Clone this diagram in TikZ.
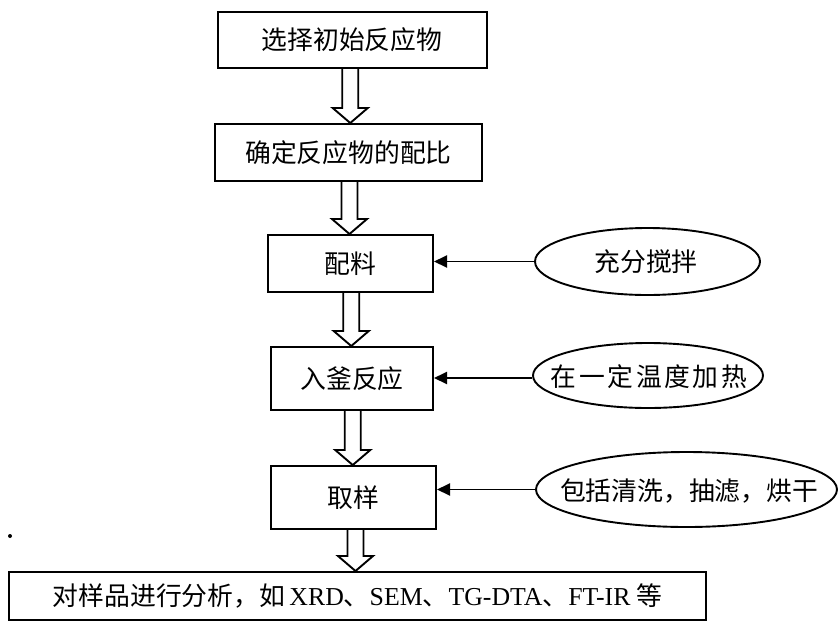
\documentclass[tikz,border=0pt]{standalone}
\usepackage{fontspec}
\setmainfont{Liberation Serif}
\newfontfamily\cjk{Noto Sans CJK SC}
\newfontfamily\cjkwide[LetterSpace=10]{Noto Sans CJK SC}
\usetikzlibrary{arrows.meta,shapes.geometric,calc}
\newcommand\hollowarrow[2]{%
  \draw[blockarr] let \p1=(#1.south), \p2=(#2.north), \p3=($(#1.south)!.5!(#2.north)$) in
    (\x3-8pt,\y1) -- (\x3-8pt,\y2+15pt) -- (\x3-17.5pt,\y2+15pt) -- (\x3,\y2)
    -- (\x3+17.5pt,\y2+15pt) -- (\x3+8pt,\y2+15pt) -- (\x3+8pt,\y1);}
\begin{document}
\begin{tikzpicture}[x=1pt,y=-1pt,
  txt/.style={font=\cjk\fontsize{25.8}{30}\selectfont},
  box/.style={draw, line width=2pt, inner sep=0pt, txt},
  oval/.style={draw, ellipse, line width=1.9pt, inner sep=0pt},
  lbl/.style={inner sep=0pt, txt},
  feed/.style={line width=1.9pt, -{Triangle[length=13pt,width=12pt]}},
  blockarr/.style={line width=1.9pt, line join=miter}]
\useasboundingbox (0,0) rectangle (839,625);
% boxes
\node[box, minimum width=269pt, minimum height=56pt] (b1) at (352,40) {选择初始反应物};
\node[box, minimum width=267pt, minimum height=57pt] (b2) at (348.5,152.5) {确定反应物的配比};
\node[box, minimum width=165pt, minimum height=57pt] (b3) at (350.5,263.5) {配料};
\node[box, minimum width=162pt, minimum height=63pt] (b4) at (352,378.5) {入釜反应};
\node[box, minimum width=165pt, minimum height=63pt] (b5) at (353.5,497.5) {取样};
\node[box, minimum width=697pt, minimum height=48pt] (b6) at (357.5,596)
  {{\cjk 对样品进行分析，如}\,{\rmfamily XRD}{\cjk 、}{\rmfamily SEM}{\cjk 、}{\rmfamily TG-DTA}{\cjk 、}{\rmfamily FT-IR}\ {\cjk 等}};
% ellipses
\node[oval, minimum width=225pt, minimum height=67pt] (e1) at (647.5,261.5) {};
\node[lbl] (t1) at (646,262) {充分搅拌};
\node[oval, minimum width=230pt, minimum height=65pt] (e2) at (648,375.5) {};
\node[lbl, font=\cjkwide\fontsize{25.8}{30}\selectfont] (t2) at (649,377) {在一定温度加热};
\node[oval, minimum width=301pt, minimum height=75pt] (e3) at (686.5,489.5) {};
\node[lbl] (t3) at (689,491) {包括清洗，抽滤，烘干};
% feed arrows
\draw[feed] (e1.west) -- (e1.west -| b3.east);
\draw[feed] (e2.west |- 0,378) -- (b4.east |- 0,378);
\draw[feed] (e3.west) -- (e3.west -| b5.east);
% hollow block arrows
\hollowarrow{b1}{b2}
\hollowarrow{b2}{b3}
\hollowarrow{b3}{b4}
\hollowarrow{b4}{b5}
\hollowarrow{b5}{b6}
% stray dot
\fill (10,536) circle (2pt);
\end{tikzpicture}
\end{document}
